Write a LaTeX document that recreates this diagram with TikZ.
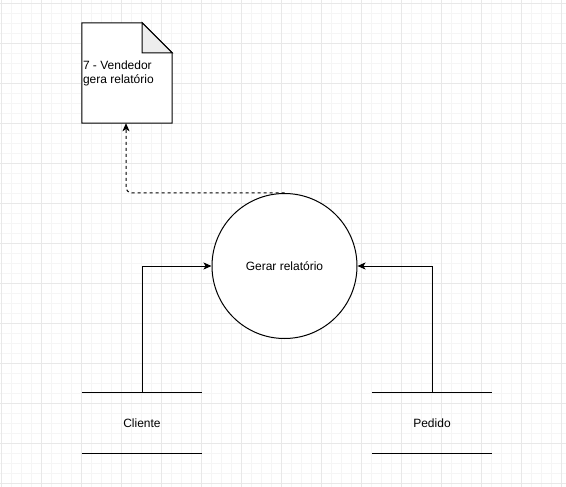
\documentclass[tikz,border=0pt]{standalone}
\usepackage{fontspec}
\setmainfont{Liberation Sans}
\usetikzlibrary{arrows.meta}
\tikzset{
	dfd/.cd,
	flow/.style = {
		line width = 1pt,
		-{Stealth[length = 8pt, width = 7pt, inset = 2pt]}
	},
}

\begin{document}
\begin{tikzpicture}[x = 1pt, y = -1pt,
		process/.style = {
			circle,
			draw,
			line width = 1pt,
			fill = white,
			minimum size = 145pt,
			font = \fontsize{12}{14}\selectfont
		},
		store/.style = {
			minimum width = 120pt,
			minimum height = 60pt,
			font = \fontsize{12}{14}\selectfont
		},
		docbox/.style = {
			minimum width = 90pt,
			minimum height = 100pt,
			inner sep = 0pt
		},
		doctext/.style = {
			align = left,
			inner sep = 1pt,
			font = \fontsize{12}{14}\selectfont
		}]
		\def\fold{30}
		% background grid
		\useasboundingbox (0, 0) rectangle (566, 487);
		\fill[white] (0, 0) rectangle (566, 487);
		\foreach \x in {1, 11, ..., 561}{
			\draw[black!4, line width = 0.6pt] (\x, 0) -- (\x, 487);
		}
		\foreach \y in {3, 13, ..., 483}{
			\draw[black!4, line width = 0.6pt] (0, \y) -- (566, \y);
		}
		\foreach \x in {1, 41, ..., 561}{
			\draw[black!9, line width = 0.6pt] (\x, 0) -- (\x, 487);
		}
		\foreach \y in {3, 43, ..., 483}{
			\draw[black!9, line width = 0.6pt] (0, \y) -- (566, \y);
		}
		% nodes
		\node[process] (gerar) at (284.5, 266) {Gerar relatório};
		\node[store] (cliente) at (142, 423) {Cliente};
		\node[store] (pedido) at (432, 423) {Pedido};
		\node[docbox] (relatorio) at (127, 73) {};
		\draw[line width = 1pt, fill = white]
			(relatorio.north west) -- ([xshift = -\fold pt]relatorio.north east)
			-- ([yshift = -\fold pt]relatorio.north east) -- (relatorio.south east)
			-- (relatorio.south west) -- cycle;
		\draw[line width = 1pt, fill = black!7]
			([xshift = -\fold pt]relatorio.north east) -- ([xshift = -\fold pt, yshift = -\fold pt]relatorio.north east)
			-- ([yshift = -\fold pt]relatorio.north east) -- cycle;
		\node[doctext, anchor = west] (relatorio-text) at (relatorio.west) {7 - Vendedor\\gera relatório};
		\foreach \s in {cliente, pedido}{
			\draw[line width = 1pt] (\s.north west) -- (\s.north east);
			\draw[line width = 1pt] (\s.south west) -- (\s.south east);
		}
		% flows
		\draw[dfd/flow] (cliente.north) |- (gerar.west);
		\draw[dfd/flow] (pedido.north) |- (gerar.east);
		\draw[dfd/flow, dash pattern = on 3pt off 3pt, rounded corners = 6pt] (gerar.north) -| ([xshift = -1pt]relatorio.south);
	\end{tikzpicture}
\end{document}
